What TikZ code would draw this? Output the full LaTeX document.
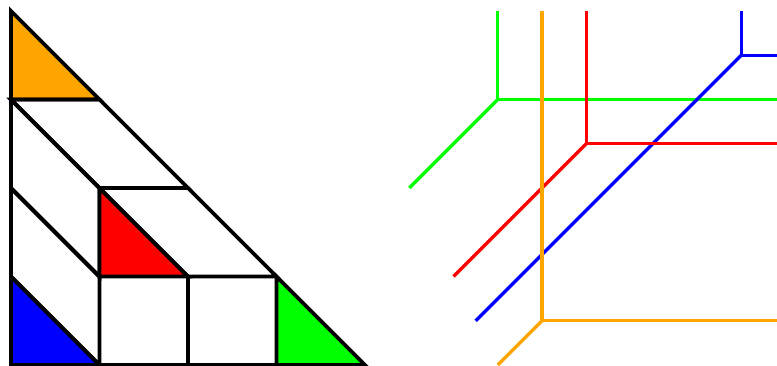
\documentclass[tikz,border=0pt]{standalone}
\definecolor{naranja}{RGB}{255,165,0}
\begin{document}
\begin{tikzpicture}[
    x=0.885cm,
    y=0.885cm,
    pieza/.style={draw=black,line width=1.1pt},
    eje/.style={line width=0.95pt}
]
    \useasboundingbox (-0.124,0) rectangle (8.655,4.124);
    \clip (-0.124,0) rectangle (8.655,4.124);

    % Triangulo descompuesto en piezas
    \draw[pieza,fill=naranja] (0,4) -- (0,3) -- (1,3) -- cycle;
    \draw[pieza] (0,3) -- (1,3) -- (2,2) -- (1,2) -- cycle;
    \draw[pieza] (0,3) -- (1,2) -- (1,1) -- (0,2) -- cycle;
    \draw[pieza] (0,2) -- (1,1) -- (1,0) -- (0,1) -- cycle;
    \draw[pieza,fill=blue] (0,1) -- (0,0) -- (1,0) -- cycle;
    \draw[pieza,fill=red] (1,2) -- (1,1) -- (2,1) -- cycle;
    \draw[pieza] (1,2) -- (2,2) -- (3,1) -- (2,1) -- cycle;
    \draw[pieza] (1,1) rectangle (2,0);
    \draw[pieza] (2,1) rectangle (3,0);
    \draw[pieza,fill=green] (3,1) -- (3,0) -- (4,0) -- cycle;

    % Ejes desplazados
    \draw[eje,green] (5.5,4) -- (5.5,3) -- (8.7,3);
    \draw[eje,green] (5.5,3) -- (4.5,2);
    \draw[eje,blue] (8.25,4) -- (8.25,3.5) -- (8.7,3.5);
    \draw[eje,blue] (8.25,3.5) -- (5.25,0.5);
    \draw[eje,red] (6.5,4) -- (6.5,2.5) -- (8.7,2.5);
    \draw[eje,red] (6.5,2.5) -- (5,1);
    \draw[eje,naranja] (6,4) -- (6,0.5) -- (8.7,0.5);
    \draw[eje,naranja] (6,0.5) -- (5.5,0);
\end{tikzpicture}
\end{document}
